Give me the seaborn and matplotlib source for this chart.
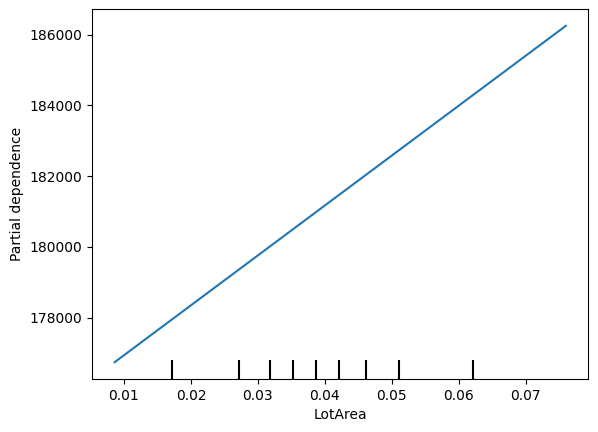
import matplotlib
matplotlib.use("Agg")
import matplotlib.pyplot as plt
import seaborn as sns
import pandas as pd

# Partial dependence line (straight line)
lot_area = [0.00861, 0.07597]
partial_dependence = [176738, 186246]

# Deciles of the feature (rug ticks)
deciles = [0.01711, 0.02720, 0.03186, 0.03529, 0.03871, 0.04214, 0.04612, 0.05108, 0.06206]

df = pd.DataFrame({"LotArea": lot_area, "Partial dependence": partial_dependence})

fig = plt.figure(figsize=(5.98, 4.32), dpi=100)
ax = fig.add_axes([0.154, 0.1227, 0.830, 0.8565])

sns.lineplot(data=df, x="LotArea", y="Partial dependence", color="#1f77b4", linewidth=1.5, ax=ax)
ylim = ax.get_ylim()
sns.rugplot(x=deciles, height=0.05, color="k", linewidth=1.5, expand_margins=False, ax=ax)
ax.set_ylim(ylim)

ax.set_xlabel("LotArea")
ax.set_ylabel("Partial dependence")

fig.savefig("out.png", dpi=100)
